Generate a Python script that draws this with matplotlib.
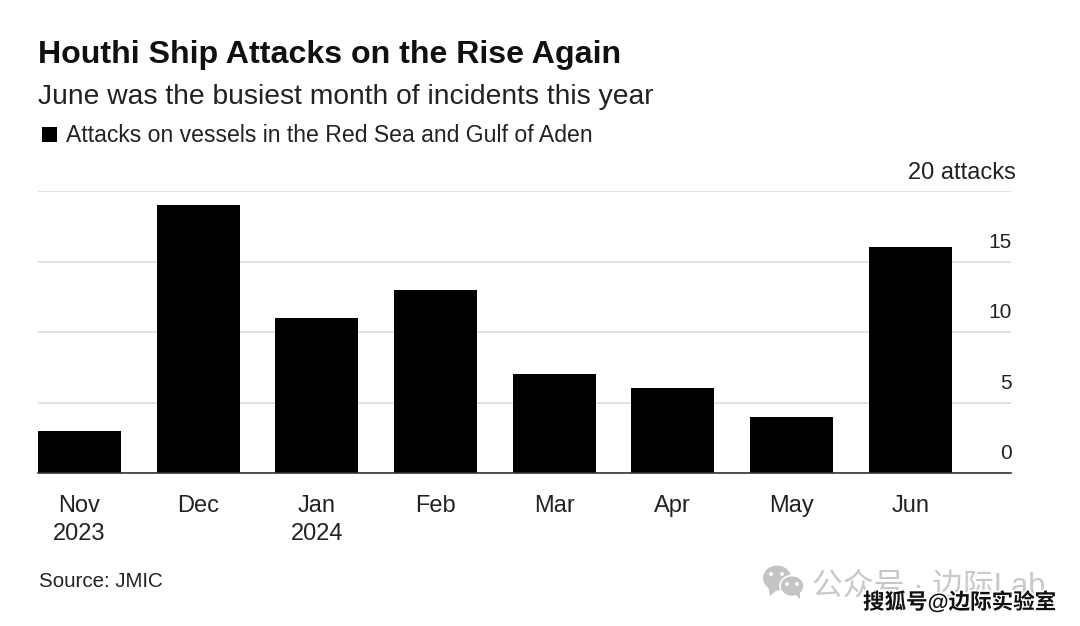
import matplotlib
matplotlib.use("Agg")
import matplotlib.pyplot as plt
import matplotlib.patheffects as pe
from matplotlib.patches import Ellipse, Rectangle, Polygon

plt.rcParams['font.family'] = ['Liberation Sans', 'Noto Sans CJK SC', 'DejaVu Sans']

months = ["Nov\n2023", "Dec", "Jan\n2024", "Feb", "Mar", "Apr", "May", "Jun"]
attacks = [3, 19, 11, 13, 7, 6, 4, 16]
grid_values = [0, 5, 10, 15, 20]
grid_labels = ["0", "5", "10", "15", "20 attacks"]
label_right_offset = [0.5, 0.5, 0.5, 0.5, 3.5]
label_up_offset = [13.8, 13.8, 13.8, 13.8, 13.2]
label_sizes = [15, 15, 15, 15, 17]

W, H = 1080, 626
def fx(x): return x / W
def fy(y): return 1 - y / H

fig = plt.figure(figsize=(10.8, 6.26), dpi=100, facecolor="white")
ax = fig.add_axes([fx(38), fy(473), (1011 - 38) / W, (473 - 191) / H])
ax.set_xlim(-0.35, 7.85)
ax.set_ylim(0, 20)
ax.bar(range(len(attacks)), attacks, width=0.7, color="black", zorder=3)
for s in ["top", "left", "right"]:
    ax.spines[s].set_visible(False)
ax.spines["bottom"].set_color("#333333")
ax.spines["bottom"].set_linewidth(1.2)
ax.spines["bottom"].set_zorder(4)
ax.set_yticks(grid_values)
ax.set_yticklabels([])
ax.grid(axis="y", color="#dcdcdc", linewidth=1.2, zorder=0)
ax.tick_params(axis="y", length=0)
ax.set_xticks(range(len(months)))
ax.set_xticklabels(months, fontsize=17, color="#222222", linespacing=1.36)
ax.tick_params(axis="x", length=0, pad=15.5)
for v, lab, off, up, sz in zip(grid_values, grid_labels, label_right_offset, label_up_offset, label_sizes):
    ax.annotate(lab, xy=(1, v), xycoords=("axes fraction", "data"),
                xytext=(off, up), textcoords="offset points", ha="right", va="center",
                fontsize=sz, color="#222222")

fig.text(fx(38), fy(54.5), "Houthi Ship Attacks on the Rise Again", fontsize=23.1,
         fontweight="bold", color="#111111", va="center", ha="left")
fig.text(fx(38), fy(96.5), "June was the busiest month of incidents this year", fontsize=20.3,
         color="#222222", va="center", ha="left")
fig.add_artist(Rectangle((fx(42), fy(142)), 15 / W, 15 / H, transform=fig.transFigure,
                         facecolor="black", edgecolor="none"))
fig.text(fx(66), fy(135), "Attacks on vessels in the Red Sea and Gulf of Aden", fontsize=16.6,
         color="#222222", va="center", ha="left")
fig.text(fx(39), fy(581.5), "Source: JMIC", fontsize=14.8, color="#222222", va="center", ha="left")

# watermark
gray = "#c4c4c4"
fig.add_artist(Ellipse((fx(777), fy(578)), 28 / W, 25 / H, transform=fig.transFigure,
                       facecolor=gray, edgecolor="none"))
fig.add_artist(Polygon([(fx(768), fy(586)), (fx(770), fy(596)), (fx(778), fy(589))],
                       transform=fig.transFigure, facecolor=gray, edgecolor="none"))
fig.add_artist(Ellipse((fx(792), fy(586)), 24 / W, 21 / H, transform=fig.transFigure,
                       facecolor=gray, edgecolor="white", linewidth=1.2))
fig.add_artist(Polygon([(fx(795), fy(594)), (fx(800), fy(599)), (fx(800), fy(592))],
                       transform=fig.transFigure, facecolor=gray, edgecolor="none"))
for px, py, c in [(771, 574, "white"), (782, 574, "white"), (787, 584, "white"), (797, 584, "white")]:
    fig.add_artist(Ellipse((fx(px), fy(py)), 4 / W, 4 / H, transform=fig.transFigure,
                           facecolor=c, edgecolor="none"))
fig.text(fx(812), fy(586), "公众号 · 边际Lab", fontsize=22.2, color="#c8c8c8", va="center", ha="left")
fig.text(fx(863), fy(603), "搜狐号@边际实验室", fontsize=15.5, color="#111111", va="center", ha="left",
         fontweight="bold", path_effects=[pe.withStroke(linewidth=2.5, foreground="white")])

fig.savefig("out.png", dpi=100, facecolor="white")
